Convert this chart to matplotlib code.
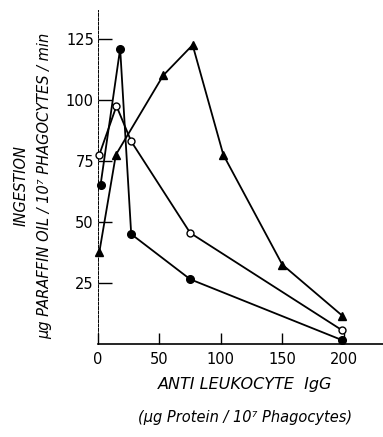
import matplotlib
matplotlib.use("Agg")
import matplotlib.pyplot as plt

# antileukocyte IgG dose (ug protein / 10^7 phagocytes)
dose_filled = [2, 18, 27, 75, 199]
ingest_filled = [65, 121, 45, 26.5, 1.5]

dose_open = [1, 15, 27, 75, 199]
ingest_open = [77.5, 97.5, 83, 45.5, 5.5]

dose_tri = [1, 14.5, 53, 77, 102, 150, 199]
ingest_tri = [37.5, 77.5, 110, 122.5, 77.5, 32.5, 11.5]

xticks = [0, 50, 100, 150, 200]
yticks = [25, 50, 75, 100, 125]

fig = plt.figure(figsize=(3.83, 4.37), dpi=100)
ax = fig.add_axes([0.256, 0.213, 0.744, 0.765])

ax.plot(dose_filled, ingest_filled, "-o", color="black", lw=1.3,
        ms=5.5, mfc="black", mec="black", clip_on=False, zorder=3)
ax.plot(dose_open, ingest_open, "-o", color="black", lw=1.3,
        ms=5, mfc="white", mec="black", mew=1.0, clip_on=False, zorder=3)
ax.plot(dose_tri, ingest_tri, "-^", color="black", lw=1.3,
        ms=6, mfc="black", mec="black", clip_on=False, zorder=3)

ax.set_xlim(0, 232)
ax.set_ylim(0, 137)
ax.set_xticks(xticks)
ax.set_yticks(yticks)
ax.set_xticklabels([str(v) for v in xticks], fontsize=10.5)
ax.set_yticklabels([str(v) for v in yticks], fontsize=10.5)
ax.tick_params(axis="x", direction="in", length=8, width=1, pad=6)
ax.tick_params(axis="y", direction="in", length=10, width=1, pad=3)

ax.spines["top"].set_visible(False)
ax.spines["right"].set_visible(False)
ax.spines["bottom"].set_linewidth(1.2)
ax.spines["left"].set_linewidth(0.7)
ax.spines["left"].set_linestyle((0, (3, 1.5)))

fig.text(0.64, 0.12, "ANTI LEUKOCYTE  IgG", ha="center", va="center",
         fontsize=11.5, style="italic")
fig.text(0.64, 0.045, "(μg Protein / 10⁷ Phagocytes)", ha="center",
         va="center", fontsize=10.5, style="italic")

fig.text(0.055, 0.575, "INGESTION", rotation=90, ha="center", va="center",
         fontsize=10.5, style="italic")
fig.text(0.117, 0.575, "μg PARAFFIN OIL / 10⁷ PHAGOCYTES / min",
         rotation=90, ha="center", va="center", fontsize=10.5, style="italic")

fig.savefig("out.png", dpi=100)
